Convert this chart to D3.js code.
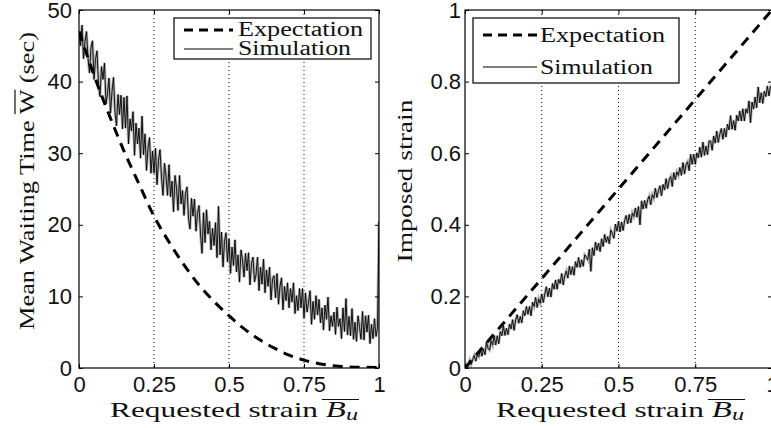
<!DOCTYPE html>
<html><head><meta charset="utf-8">
<script src="https://cdn.jsdelivr.net/npm/d3@7"></script>
<style>body{margin:0;background:#fff}svg{display:block}</style>
</head><body>
<svg id="c" width="771" height="428"></svg>
<script>
// ---------- data ----------
const xTicks = [0, 0.25, 0.5, 0.75, 1];
const xTickLabels = ["0", "0.25", "0.5", "0.75", "1"];
const gridX = [0.25, 0.5, 0.75];
const waitTicks = [0, 10, 20, 30, 40, 50];
const waitTickLabels = ["0", "10", "20", "30", "40", "50"];
const strainTicks = [0, 0.2, 0.4, 0.6, 0.8, 1];
const strainTickLabels = ["0", "0.2", "0.4", "0.6", "0.8", "1"];
const legendLabels = ["Expectation", "Simulation"];

const expX = [0,0.05,0.1,0.15,0.2,0.25,0.3,0.35,0.4,0.45,0.5,0.55,0.6,0.65,0.7,0.75,0.8,0.85,0.9,0.95,1];
const waitExpectation = [47,40.9,35.4,30.3,25.7,21.2,17.6,14.4,11.6,9.3,7.3,5.5,4.0,2.8,1.8,1.1,0.6,0.3,0.15,0.1,0.05];
const strainExpX = [0, 1];
const strainExpectation = [0, 1];

const simStep = 0.005;
const waitSimulation = [
47.0,45.0,47.9,43.2,45.6,47.0,43.3,41.2,44.8,45.7,
40.3,43.1,44.3,39.5,37.9,42.1,40.3,42.6,36.9,38.3,
40.5,35.6,38.6,40.6,35.7,33.8,38.2,35.4,38.1,33.4,
37.8,33.5,38.0,31.3,34.8,33.1,35.8,29.7,34.2,31.3,
33.5,29.3,35.2,29.8,32.7,27.6,30.7,32.2,27.2,30.3,
27.2,30.7,25.6,29.0,30.5,26.6,24.1,28.6,26.8,24.1,
28.4,23.9,26.1,21.8,26.9,25.1,22.0,26.9,22.9,24.8,
21.3,24.4,25.3,20.9,19.4,23.7,21.2,23.6,19.1,21.6,
22.7,18.7,16.0,21.7,17.5,22.1,18.7,20.5,16.5,19.5,
17.1,20.3,15.4,22.6,15.8,19.0,14.1,17.7,18.9,14.8,
18.0,13.2,16.9,14.3,17.9,13.4,15.8,12.0,16.5,15.1,
12.7,16.0,13.6,16.1,11.6,14.6,15.5,12.0,13.0,15.5,
10.8,14.1,11.7,15.2,10.5,13.7,11.4,14.1,9.5,12.4,
12.9,9.8,13.2,8.9,11.4,12.6,8.1,11.4,9.4,11.9,
8.4,11.1,9.2,11.9,7.6,10.1,8.0,11.1,8.4,11.1,
7.0,10.5,7.8,9.1,10.8,6.1,9.3,6.8,10.1,7.4,
9.6,6.3,8.4,5.3,8.8,6.8,9.9,5.2,7.3,5.8,
7.8,4.7,8.5,5.8,6.9,4.1,8.4,5.1,9.7,4.6,
7.2,4.5,8.3,4.0,6.4,3.7,7.3,5.8,4.0,7.9,
3.9,7.3,5.0,7.4,3.4,6.1,4.1,6.9,4.4,5.6,
20.5];
const strainSimulation = [
0.000,0.010,0.004,0.022,0.010,0.024,0.035,0.019,0.037,0.031,
0.053,0.033,0.053,0.037,0.073,0.055,0.050,0.076,0.064,0.090,
0.064,0.090,0.068,0.102,0.090,0.118,0.091,0.111,0.093,0.123,
0.109,0.135,0.105,0.135,0.149,0.125,0.144,0.126,0.160,0.146,
0.172,0.150,0.172,0.146,0.184,0.172,0.197,0.169,0.193,0.181,
0.207,0.183,0.207,0.227,0.199,0.223,0.198,0.236,0.220,0.246,
0.220,0.248,0.236,0.264,0.232,0.258,0.271,0.251,0.285,0.261,
0.283,0.259,0.297,0.281,0.309,0.281,0.302,0.284,0.316,0.310,
0.302,0.332,0.270,0.336,0.314,0.352,0.329,0.349,0.325,0.361,
0.339,0.373,0.351,0.367,0.347,0.385,0.376,0.362,0.402,0.382,
0.410,0.380,0.408,0.384,0.412,0.426,0.403,0.429,0.405,0.433,
0.423,0.447,0.421,0.451,0.400,0.467,0.444,0.468,0.446,0.470,
0.480,0.456,0.484,0.474,0.502,0.476,0.495,0.509,0.481,0.513,
0.497,0.529,0.501,0.525,0.535,0.507,0.546,0.526,0.548,0.538,
0.560,0.538,0.574,0.542,0.568,0.576,0.551,0.597,0.569,0.597,
0.569,0.601,0.587,0.617,0.589,0.631,0.594,0.620,0.596,0.634,
0.634,0.608,0.648,0.628,0.662,0.630,0.653,0.669,0.639,0.669,
0.645,0.681,0.665,0.705,0.667,0.691,0.664,0.706,0.690,0.718,
0.690,0.724,0.690,0.724,0.712,0.746,0.685,0.743,0.723,0.757,
0.727,0.785,0.741,0.769,0.739,0.773,0.758,0.788,0.760,0.786,
0.782];

// ---------- drawing ----------
const svg = d3.select("#c");
const TOP = 10, BOT = 368;
const serif = "'Liberation Serif', 'Times New Roman', serif";
const sans = "'Liberation Sans', Arial, sans-serif";

function panel(o) {
  const x = d3.scaleLinear().domain([0, 1]).range([o.x0, o.x1]);
  const y = d3.scaleLinear().domain(o.yDomain).range([BOT, TOP]);
  const g = svg.append("g");
  const clipId = "clip" + o.id;
  svg.append("clipPath").attr("id", clipId).append("rect")
    .attr("x", o.x0).attr("y", TOP).attr("width", o.x1 - o.x0).attr("height", BOT - TOP);

  g.selectAll(".grid").data(gridX).enter().append("line")
    .attr("x1", d => x(d)).attr("x2", d => x(d)).attr("y1", TOP).attr("y2", BOT)
    .attr("stroke", "#000").attr("stroke-width", 1).attr("stroke-dasharray", "1,3");

  const plot = g.append("g").attr("clip-path", `url(#${clipId})`);
  const line = d3.line().x((d, i) => x(i * simStep)).y(d => y(d));
  plot.append("path").datum(o.sim).attr("d", line)
    .attr("fill", "none").attr("stroke", "#a0a0a0").attr("stroke-width", 2.8).attr("opacity", 0.8);
  plot.append("path").datum(o.sim).attr("d", line)
    .attr("fill", "none").attr("stroke", "#000").attr("stroke-width", 0.9);
  const eline = d3.line().curve(d3.curveMonotoneX).x((d, i) => x(o.expX[i])).y(d => y(d));
  plot.append("path").datum(o.exp).attr("d", eline)
    .attr("fill", "none").attr("stroke", "#000").attr("stroke-width", 3).attr("stroke-dasharray", "10,7");

  const axB = d3.axisBottom(x).tickValues(xTicks).tickFormat((d, i) => xTickLabels[i]).tickSizeInner(-4).tickSizeOuter(0).tickPadding(8);
  const axT = d3.axisTop(x).tickValues(xTicks).tickFormat("").tickSizeInner(-4).tickSizeOuter(0);
  const axL = d3.axisLeft(y).tickValues(o.yTicks).tickFormat((d, i) => o.yLabels[i]).tickSizeInner(-4).tickSizeOuter(0).tickPadding(o.yPad);
  const axR = d3.axisRight(y).tickValues(o.yTicks).tickFormat("").tickSizeInner(-4).tickSizeOuter(0);
  const gb = g.append("g").attr("transform", `translate(0,${BOT})`).call(axB);
  const gt = g.append("g").attr("transform", `translate(0,${TOP})`).call(axT);
  const gl = g.append("g").attr("transform", `translate(${o.x0},0)`).call(axL);
  const gr = g.append("g").attr("transform", `translate(${o.x1},0)`).call(axR);
  [gb, gt, gl, gr].forEach(a => {
    a.select(".domain").remove();
    a.selectAll("line").attr("stroke", "#000");
    a.selectAll("text").attr("font-family", sans).attr("font-size", 22).attr("fill", "#111");
  });
  gb.selectAll("text").attr("dy", "0.72em");
  g.append("rect").attr("x", o.x0).attr("y", TOP).attr("width", o.x1 - o.x0).attr("height", BOT - TOP)
    .attr("fill", "none").attr("stroke", "#000").attr("stroke-width", 1.2);

  // legend
  const L = o.legend;
  g.append("rect").attr("x", L.x).attr("y", L.y).attr("width", L.w).attr("height", L.h)
    .attr("fill", "#fff").attr("stroke", "#000").attr("stroke-width", 1.2);
  g.append("line").attr("x1", L.lx0).attr("x2", L.lx1).attr("y1", L.ly[0]).attr("y2", L.ly[0])
    .attr("stroke", "#000").attr("stroke-width", 3).attr("stroke-dasharray", "9,6");
  g.append("line").attr("x1", L.lx0).attr("x2", L.lx1).attr("y1", L.ly[1]).attr("y2", L.ly[1])
    .attr("stroke", "#000").attr("stroke-width", 1);
  const legW = [125, 113];
  legendLabels.forEach((t, i) => {
    g.append("text").attr("x", L.tx).attr("y", L.ty[i]).text(t)
      .attr("font-family", serif).attr("font-size", 20).attr("fill", "#111")
      .attr("textLength", legW[i]).attr("lengthAdjust", "spacingAndGlyphs");
  });

  // x label
  const xl = g.append("text").attr("x", o.x0 + 155).attr("y", 417)
    .attr("text-anchor", "middle").attr("font-family", serif).attr("font-size", 22).attr("fill", "#111")
    .attr("textLength", 248).attr("lengthAdjust", "spacingAndGlyphs");
  xl.append("tspan").text("Requested strain ");
  xl.append("tspan").text("B").attr("font-style", "italic").attr("font-size", 23);
  xl.append("tspan").text("u").attr("font-style", "italic").attr("font-size", 17).attr("dy", 3);
  const n = xl.text().length;
  const s = xl.node().getStartPositionOfChar(n - 2).x;
  const e = xl.node().getEndPositionOfChar(n - 1).x;
  g.append("line").attr("x1", s - 4).attr("x2", e + 1).attr("y1", 399.5).attr("y2", 399.5)
    .attr("stroke", "#111").attr("stroke-width", 1.2);

  // y label
  const yg = g.append("g").attr("transform", `translate(${o.ylx},${o.yly}) rotate(-90)`);
  const yt = yg.append("text").attr("x", 0).attr("y", 0).attr("text-anchor", "middle")
    .attr("font-family", serif).attr("font-size", 22).attr("fill", "#111")
    .attr("textLength", o.ylen).attr("lengthAdjust", "spacingAndGlyphs");
  o.ylabel(yt, yg);
}

panel({
  id: "L", x0: 79, x1: 379, yDomain: [0, 50], yTicks: waitTicks, yLabels: waitTickLabels, yPad: 7,
  sim: waitSimulation, exp: waitExpectation, expX: expX,
  legend: {x: 174, y: 18, w: 197, h: 41, lx0: 184, lx1: 233, ly: [30, 49], tx: 238, ty: [36, 55]},
  ylx: 34, yly: 181, ylen: 298,
  ylabel: (t, g) => {
    t.append("tspan").text("Mean Waiting Time ");
    t.append("tspan").text("W");
    t.append("tspan").text(" (sec)");
    const node = t.node();
    const idx = "Mean Waiting Time ".length;
    const s = node.getStartPositionOfChar(idx).x, e = node.getEndPositionOfChar(idx).x;
    g.append("line").attr("x1", s).attr("x2", e).attr("y1", -19).attr("y2", -19)
      .attr("stroke", "#111").attr("stroke-width", 1.2);
  }
});

panel({
  id: "R", x0: 465, x1: 772, yDomain: [0, 1], yTicks: strainTicks, yLabels: strainTickLabels, yPad: 4,
  sim: strainSimulation, exp: strainExpectation, expX: strainExpX,
  legend: {x: 473, y: 18, w: 206, h: 65, lx0: 483, lx1: 537, ly: [35, 67], tx: 540, ty: [42, 74]},
  ylx: 412, yly: 181, ylen: 163,
  ylabel: (t, g) => { t.text("Imposed strain"); }
});
</script>
</body></html>
